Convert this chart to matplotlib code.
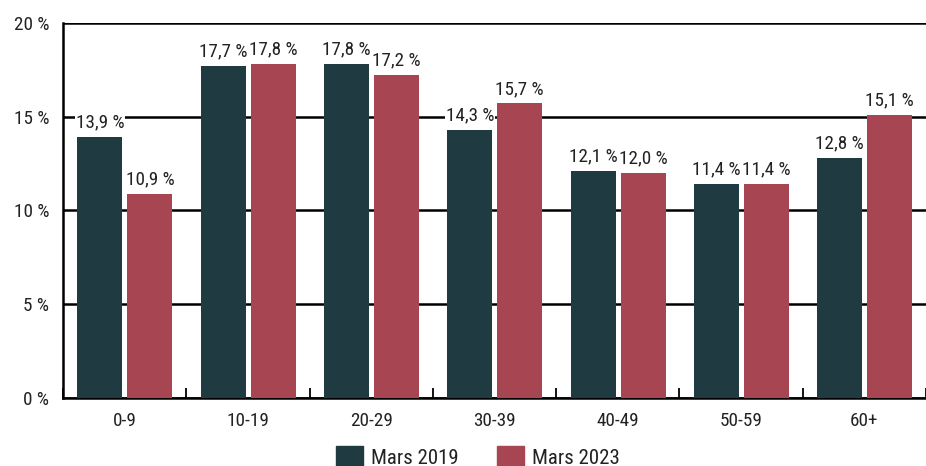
import matplotlib
matplotlib.use("Agg")
import matplotlib.pyplot as plt
import numpy as np
from matplotlib.patches import Patch

categories = ["0-9", "10-19", "20-29", "30-39", "40-49", "50-59", "60+"]
mars2019 = [13.9, 17.7, 17.8, 14.3, 12.1, 11.4, 12.8]
mars2023 = [10.9, 17.8, 17.2, 15.7, 12.0, 11.4, 15.1]
series_names = ["Mars 2019", "Mars 2023"]
yticks = [0, 5, 10, 15, 20]

c1 = "#1f3a40"
c2 = "#a84553"
txt = "#222222"

plt.rcParams['font.family'] = ['Roboto Condensed', 'Archivo Narrow', 'DejaVu Sans']

fig = plt.figure(figsize=(9.26, 4.66), dpi=100)
ax = fig.add_axes([0.068, 0.146, 0.932, 0.805])

x = np.arange(len(categories))
w = 0.365
b1 = ax.bar(x - 0.2, mars2019, width=w, color=c1, zorder=3)
b2 = ax.bar(x + 0.205, mars2023, width=w, color=c2, zorder=3)

def fmt(v):
    return f"{v:.1f}".replace(".", ",") + " %"

for bars, vals in ((b1, mars2019), (b2, mars2023)):
    for r, v in zip(bars, vals):
        ax.text(r.get_x() + r.get_width() / 2, v + 0.3, fmt(v), ha="center", va="bottom",
                fontsize=13.8, color=txt, zorder=4, clip_on=False,
                bbox=dict(facecolor="white", edgecolor="none", pad=0.5))

ax.set_ylim(0, 20)
ax.set_xlim(-0.5, 6.35)
ax.set_yticks(yticks)
ax.set_yticklabels([f"{t} %" for t in yticks], fontsize=13.8, color=txt)
ax.tick_params(axis="y", length=0, pad=10)
ax.yaxis.grid(True, color="black", linewidth=1.8, zorder=1)
ax.set_axisbelow(True)

ax.set_xticks(x)
ax.set_xticklabels(categories, fontsize=13.8, color=txt)
ax.tick_params(axis="x", which="major", length=0, pad=10)
ax.set_xticks(np.arange(-0.5, 7, 1.0), minor=True)
ax.tick_params(axis="x", which="minor", direction="in", length=7, width=1.3, color="black")

for s in ["top", "right"]:
    ax.spines[s].set_visible(False)
ax.spines["left"].set_linewidth(1.8)
ax.spines["bottom"].set_linewidth(1.8)

handles = [Patch(color=c1), Patch(color=c2)]
fig.legend(handles, series_names, loc="center", bbox_to_anchor=(0.516, 0.02), ncol=2,
           frameon=False, fontsize=15, handlelength=1.3, handleheight=1.2,
           columnspacing=1.8, handletextpad=0.4, labelcolor=txt)

fig.savefig("out.png", dpi=100)
